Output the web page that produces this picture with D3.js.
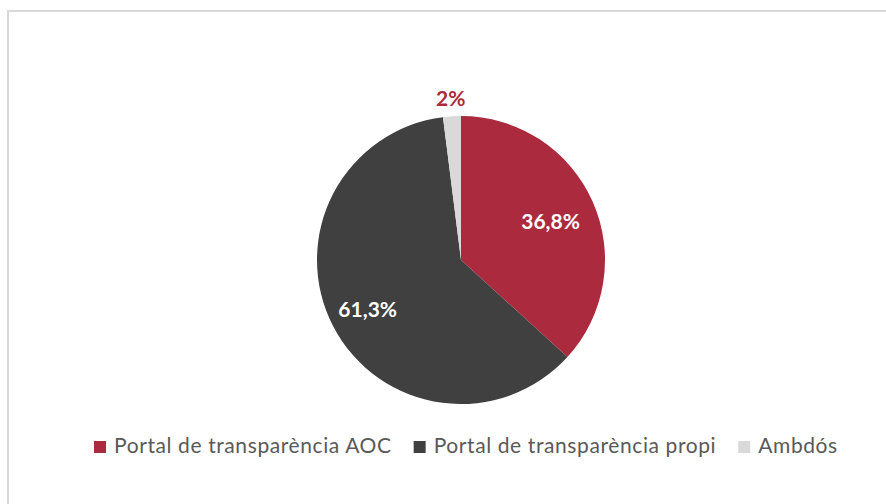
<!DOCTYPE html>
<html>
<head>
<meta charset="utf-8">
<script src="https://cdn.jsdelivr.net/npm/d3@7"></script>
<style>
  html, body { margin: 0; padding: 0; background: #fff; }
  svg { display: block; }
</style>
</head>
<body>
<svg id="chart" width="886" height="504"></svg>
<script>
// Portal de transparència utilitzat
const categories = ["Portal de transparència AOC", "Portal de transparència propi", "Ambdós"];
const values = [36.8, 61.3, 2];
const valueLabels = ["36,8%", "61,3%", "2%"];
const colors = ["#ab2a3e", "#404040", "#d9d9d9"];

const width = 886, height = 504;
const cx = 461, cy = 260, r = 144;
const font = "Lato, 'Open Sans', sans-serif";

const svg = d3.select("#chart");

// chart frame
svg.append("rect")
  .attr("x", 8).attr("y", 11)
  .attr("width", 890).attr("height", 510)
  .attr("fill", "none")
  .attr("stroke", "#d9d9d9")
  .attr("stroke-width", 2);

const pie = d3.pie().sort(null).value(d => d);
const arcs = pie(values);
const arc = d3.arc().innerRadius(0).outerRadius(r);

const g = svg.append("g").attr("transform", `translate(${cx},${cy})`);

g.selectAll("path.slice")
  .data(arcs)
  .join("path")
  .attr("class", "slice")
  .attr("d", arc)
  .attr("fill", (d, i) => colors[i]);

// inner labels for large slices, outer label for the thin slice
const labelRadius = [0.68, 0.73, 1.13];
g.selectAll("text.value")
  .data(arcs)
  .join("text")
  .attr("class", "value")
  .attr("transform", (d, i) => {
    const lr = r * labelRadius[i];
    const c = d3.arc().innerRadius(lr).outerRadius(lr).centroid(d);
    return `translate(${c[0]},${c[1]})`;
  })
  .attr("text-anchor", "middle")
  .attr("dominant-baseline", "central")
  .attr("font-family", font)
  .attr("font-weight", "bold")
  .attr("font-size", 21)
  .attr("fill", (d, i) => i === 2 ? colors[0] : "#ffffff")
  .text((d, i) => valueLabels[i]);

// legend
const legend = svg.append("g");
const items = legend.selectAll("g.item")
  .data(categories)
  .join("g")
  .attr("class", "item");
items.append("rect")
  .attr("width", 12).attr("height", 12)
  .attr("y", -12)
  .attr("fill", (d, i) => colors[i]);
items.append("text")
  .attr("x", 20)
  .attr("font-family", font)
  .attr("font-size", 21)
  .attr("letter-spacing", 0.6)
  .attr("fill", "#595959")
  .text(d => d);

let xPos = 94;
items.each(function() {
  const it = d3.select(this);
  it.attr("transform", `translate(${xPos},${453})`);
  const w = it.select("text").node().getComputedTextLength();
  xPos += 20 + w + 22;
});
</script>
</body>
</html>
